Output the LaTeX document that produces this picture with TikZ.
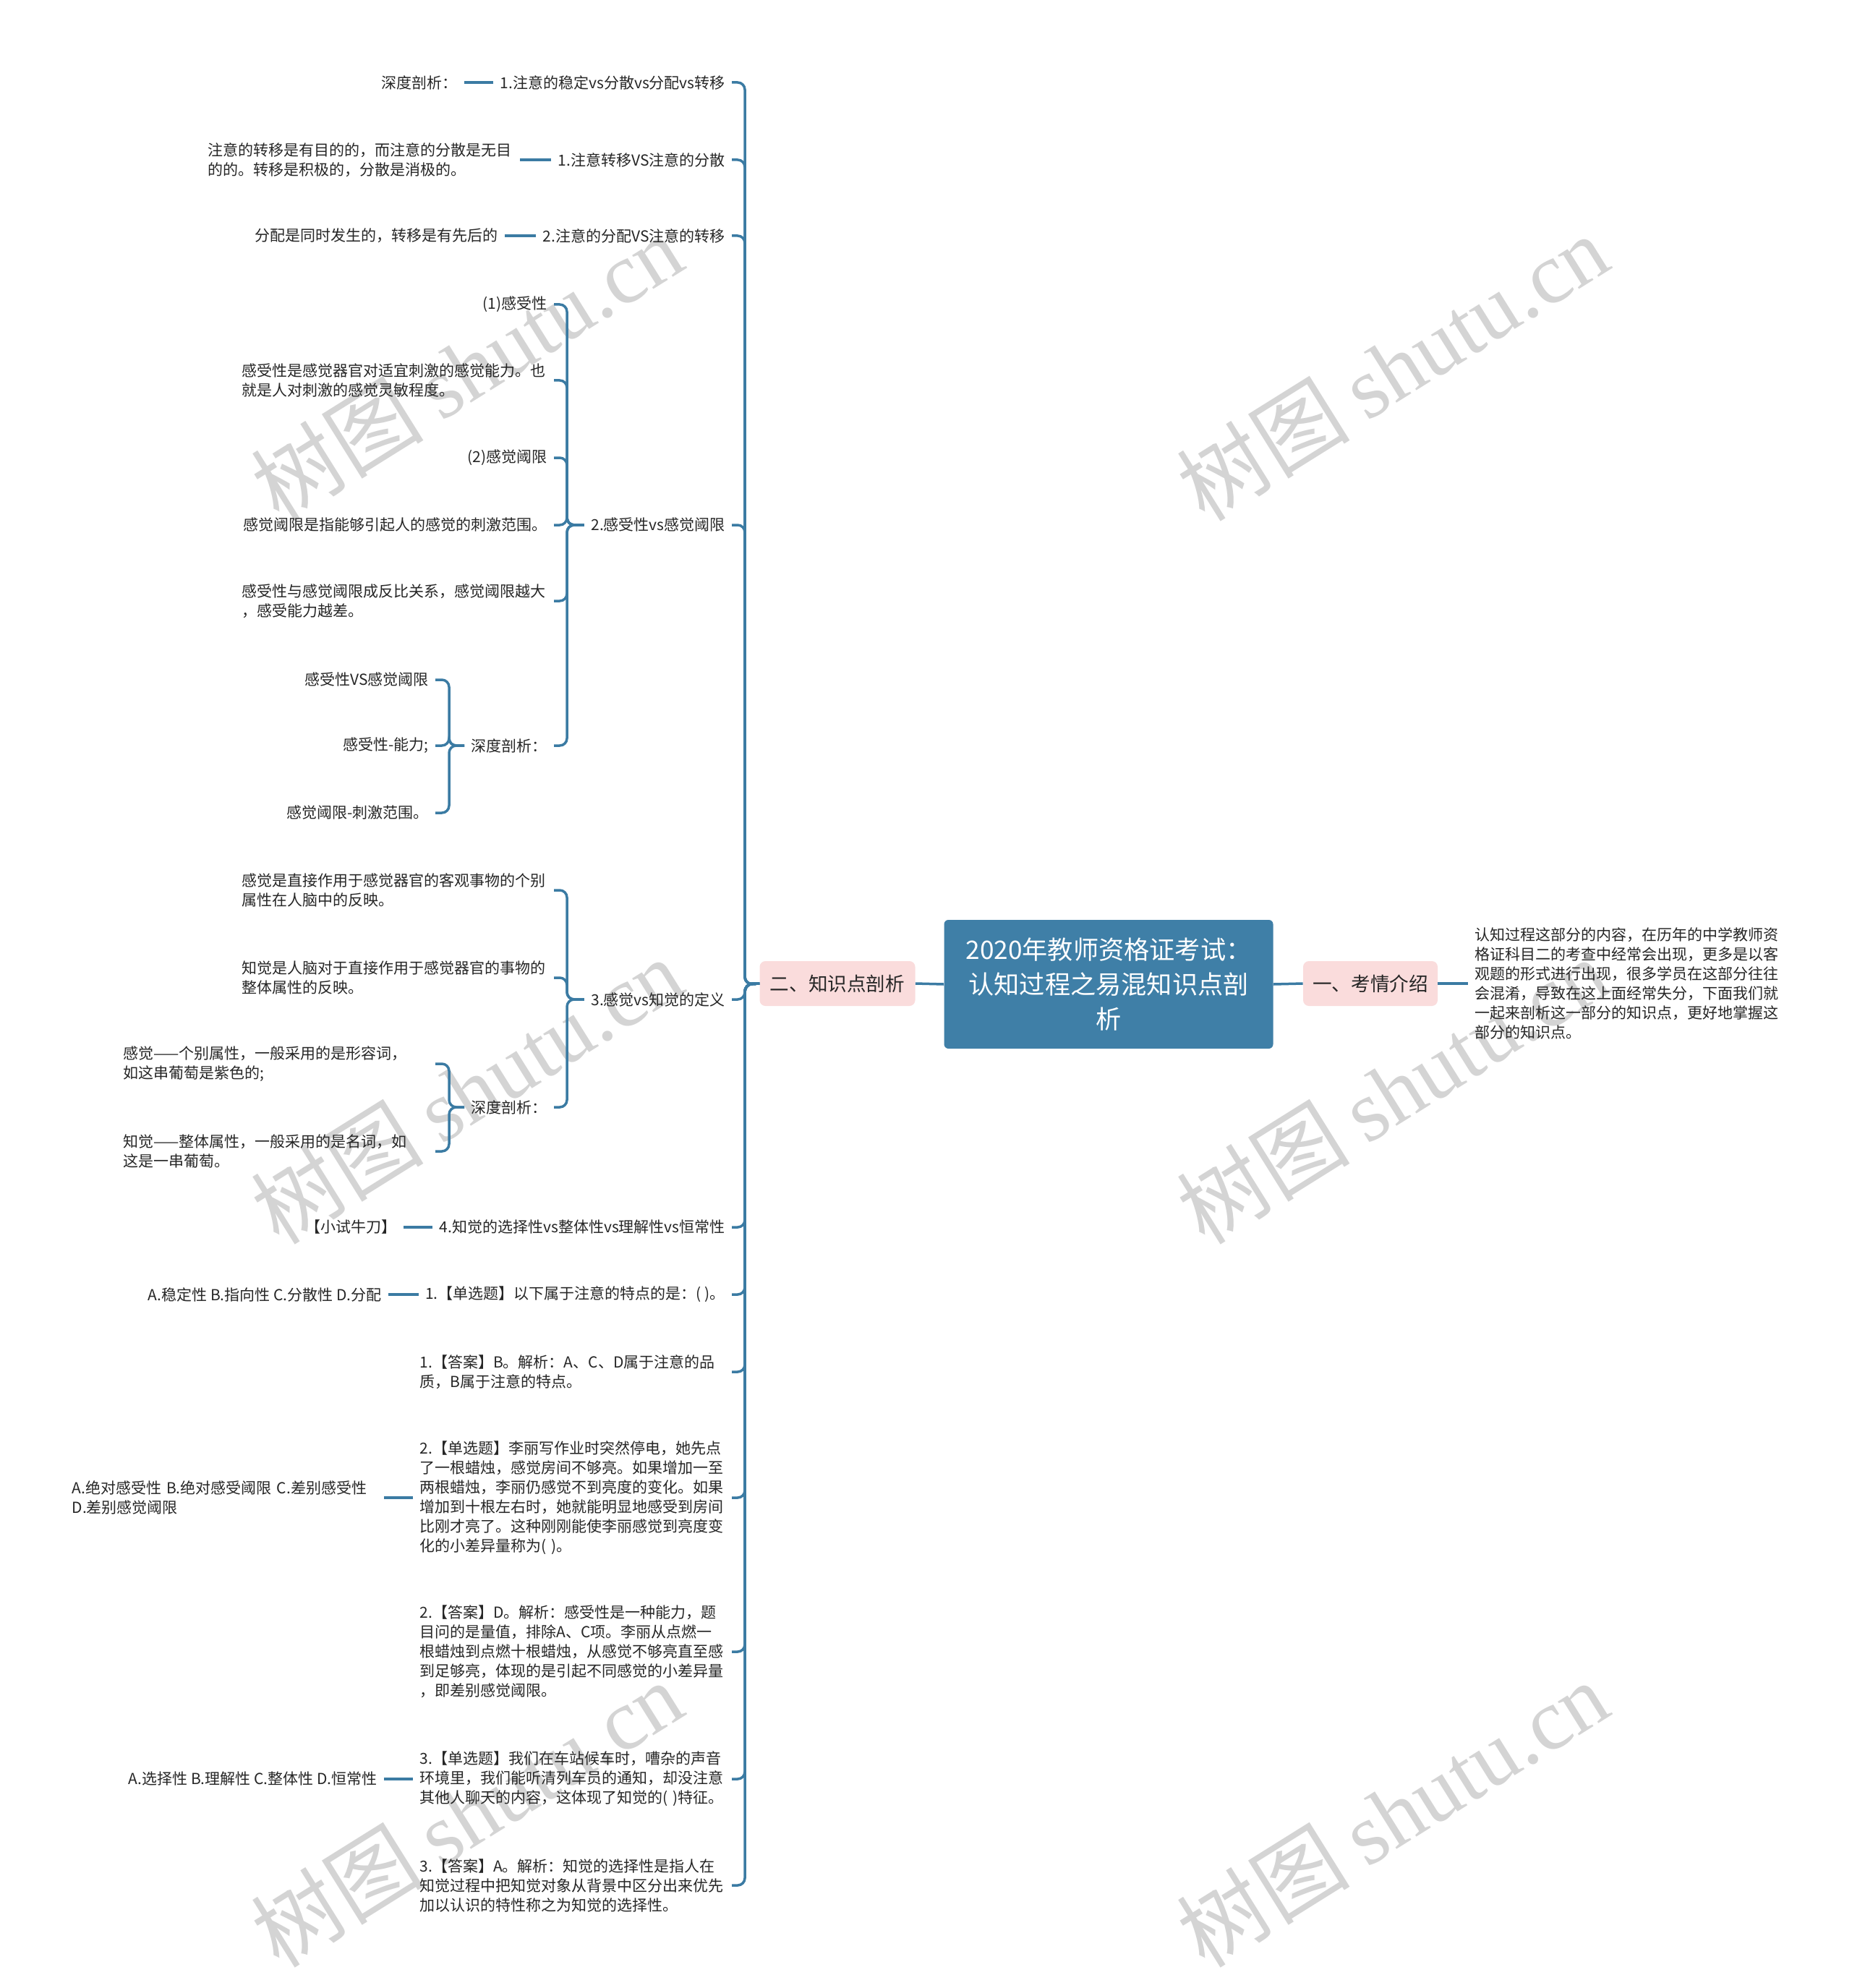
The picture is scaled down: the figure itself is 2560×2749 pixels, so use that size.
\documentclass[tikz,border=0pt]{standalone}
\usepackage{fontspec}
\setmainfont{Noto Sans CJK SC}
\newfontfamily\wmserif{Liberation Serif}
\newfontfamily\wmcjk{Noto Sans CJK SC}
\definecolor{lineblue}{HTML}{3B7BA3}
\definecolor{rootblue}{HTML}{3F7FA7}
\definecolor{pinkfill}{HTML}{FADCDC}
\definecolor{wmgray}{HTML}{D4D4D4}
\definecolor{txt}{HTML}{262626}
\tikzset{
  conn/.style={draw=lineblue, line width=1.75pt, rounded corners=5pt},
  leaf/.style={inner xsep=4.5pt, inner ysep=1pt, font=\fontsize{10.5}{13.5}\selectfont, text=txt, anchor=east},
  para/.style={leaf, align=left, text width=211pt},
  pinkbox/.style={fill=pinkfill, rounded corners=4pt, minimum height=31pt, font=\fontsize{13.3}{16}\selectfont, text=txt, inner sep=0pt},
  rootbox/.style={fill=rootblue, rounded corners=3pt, minimum width=227.5pt, minimum height=89pt, text=white, align=center, font=\fontsize{17.6}{24}\selectfont, inner sep=0pt},
  wm/.style={rotate=32, text=wmgray, inner sep=0pt}
}
\begin{document}
\begin{tikzpicture}[x=0.5pt,y=-0.5pt]
\useasboundingbox (0,0) rectangle (2560,2749);
\fill[white] (0,0) rectangle (2560,2749);
% watermarks
\foreach \wx/\wy [count=\i] in {645/508,1925/508,645/1508,1925/1508,645/2508,1925/2508}{
  \node[wm] (wm\i) at (\wx,\wy) {\fontsize{60}{60}\selectfont\wmcjk 树图\hspace{12pt}\wmserif shutu.cn};
}
% root and first level
\node[rootbox] (root) at (1533,1361) {2020年教师资格证考试：\\认知过程之易混知识点剖\\析};
\node[pinkbox, minimum width=107.5pt] (L1) at (1158,1360) {二、知识点剖析};
\node[pinkbox, minimum width=93pt] (R1) at (1895,1360) {一、考情介绍};
\node[para, anchor=west] (R1a) at (2030,1360) {认知过程这部分的内容，在历年的中学教师资\\格证科目二的考查中经常会出现，更多是以客\\观题的形式进行出现，很多学员在这部分往往\\会混淆，导致在这上面经常失分，下面我们就\\一起来剖析这一部分的知识点，更好地掌握这\\部分的知识点。};
\draw[conn] (root.west) -- (L1.east);
\draw[conn] (root.east) -- (R1.west);
\draw[conn] (R1.east) -- (R1a.west);
\coordinate (s0) at (1030,1361);
% second level
\node[leaf] (c1) at (1012,114) {1.注意的稳定vs分散vs分配vs转移};
\node[leaf] (c2) at (1012,221) {1.注意转移VS注意的分散};
\node[leaf] (c3) at (1012,326) {2.注意的分配VS注意的转移};
\node[leaf] (c4) at (1012,726) {2.感受性vs感觉阈限};
\node[leaf] (c5) at (1012,1382) {3.感觉vs知觉的定义};
\node[leaf] (c6) at (1012,1697) {4.知觉的选择性vs整体性vs理解性vs恒常性};
\node[leaf] (c7) at (1012,1790) {1.【单选题】以下属于注意的特点的是：( )。};
\node[para] (c8) at (1012,1897) {1.【答案】B。解析：A、C、D属于注意的品\\质，B属于注意的特点。};
\node[para] (c9) at (1012,2071) {2.【单选题】李丽写作业时突然停电，她先点\\了一根蜡烛，感觉房间不够亮。如果增加一至\\两根蜡烛，李丽仍感觉不到亮度的变化。如果\\增加到十根左右时，她就能明显地感受到房间\\比刚才亮了。这种刚刚能使李丽感觉到亮度变\\化的小差异量称为( )。};
\node[para] (c10) at (1012,2284) {2.【答案】D。解析：感受性是一种能力，题\\目问的是量值，排除A、C项。李丽从点燃一\\根蜡烛到点燃十根蜡烛，从感觉不够亮直至感\\到足够亮，体现的是引起不同感觉的小差异量\\，即差别感觉阈限。};
\node[para] (c11) at (1012,2460) {3.【单选题】我们在车站候车时，嘈杂的声音\\环境里，我们能听清列车员的通知，却没注意\\其他人聊天的内容，这体现了知觉的( )特征。};
\node[para] (c12) at (1012,2607) {3.【答案】A。解析：知觉的选择性是指人在\\知觉过程中把知觉对象从背景中区分出来优先\\加以认识的特性称之为知觉的选择性。};
\foreach \c in {c1,c2,c3,c4,c5,c6,c7,c8,c9,c10,c11,c12}{
  \draw[conn] (L1.west) -- (s0) |- (\c.east);
}
% third level: single children
\node[leaf] (c1a) at (642,114) {深度剖析：};
\node[para] (c2a) at (719,221) {注意的转移是有目的的，而注意的分散是无目\\的的。转移是积极的，分散是消极的。};
\node[leaf] (c3a) at (698,326) {分配是同时发生的，转移是有先后的};
\node[leaf] (c6a) at (558,1697) {【小试牛刀】};
\node[leaf] (c7a) at (537,1790) {A.稳定性 B.指向性 C.分散性 D.分配};
\node[para] (c9a) at (531,2071) {A.绝对感受性 B.绝对感受阈限 C.差别感受性\\D.差别感觉阈限};
\node[leaf] (c11a) at (531,2460) {A.选择性 B.理解性 C.整体性 D.恒常性};
\foreach \p/\q in {c1/c1a,c2/c2a,c3/c3a,c6/c6a,c7/c7a,c9/c9a,c11/c11a}{
  \draw[conn] (\p.west) -- (\q.east);
}
% third level under c4
\coordinate (s4) at (784,726);
\node[leaf] (g4a) at (766,421) {(1)感受性};
\node[para] (g4b) at (766,526) {感受性是感觉器官对适宜刺激的感觉能力。也\\就是人对刺激的感觉灵敏程度。};
\node[leaf] (g4c) at (766,633) {(2)感觉阈限};
\node[leaf] (g4d) at (766,726) {感觉阈限是指能够引起人的感觉的刺激范围。};
\node[para] (g4e) at (766,831) {感受性与感觉阈限成反比关系，感觉阈限越大\\，感受能力越差。};
\node[leaf] (g4f) at (766,1031) {深度剖析：};
\foreach \g in {g4a,g4b,g4c,g4d,g4e,g4f}{
  \draw[conn] (c4.west) -- (s4) |- (\g.east);
}
\coordinate (t4) at (621,1031);
\node[leaf] (h4a) at (602,940) {感受性VS感觉阈限};
\node[leaf] (h4b) at (602,1031) {感受性-能力;};
\node[leaf] (h4c) at (602,1124) {感觉阈限-刺激范围。};
\foreach \h in {h4a,h4b,h4c}{
  \draw[conn] (g4f.west) -- (t4) |- (\h.east);
}
% third level under c5
\coordinate (s5) at (784,1382);
\node[para] (g5a) at (766,1231) {感觉是直接作用于感觉器官的客观事物的个别\\属性在人脑中的反映。};
\node[para] (g5b) at (766,1352) {知觉是人脑对于直接作用于感觉器官的事物的\\整体属性的反映。};
\node[leaf] (g5c) at (766,1531) {深度剖析：};
\foreach \g in {g5a,g5b,g5c}{
  \draw[conn] (c5.west) -- (s5) |- (\g.east);
}
\coordinate (t5) at (621,1531);
\node[para] (h5a) at (602,1471) {感觉——个别属性，一般采用的是形容词，\\如这串葡萄是紫色的;};
\node[para] (h5b) at (602,1592) {知觉——整体属性，一般采用的是名词，如\\这是一串葡萄。};
\foreach \h in {h5a,h5b}{
  \draw[conn] (g5c.west) -- (t5) |- (\h.east);
}
\end{tikzpicture}
\end{document}
